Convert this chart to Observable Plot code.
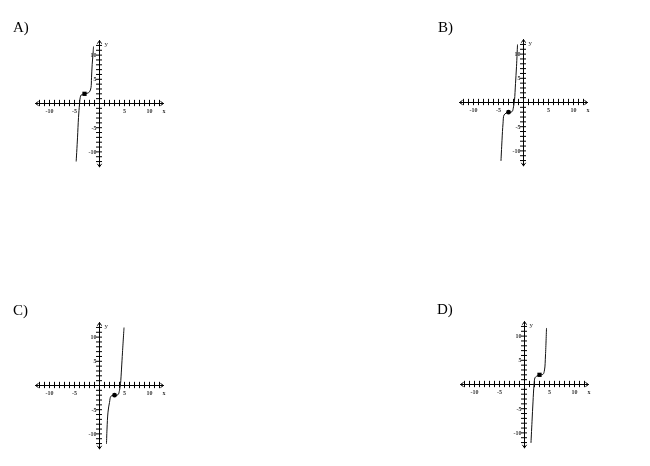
<!DOCTYPE html>
<html><head><meta charset="utf-8">
<script src="https://cdn.jsdelivr.net/npm/d3@7"></script>
<script src="https://cdn.jsdelivr.net/npm/@observablehq/plot@0.6"></script>
<style>
body{margin:0;background:#fff;}
#wrap{position:relative;width:650px;height:466px;overflow:hidden;background:#fff;}
.lab{position:absolute;font-family:"Liberation Serif","DejaVu Serif",serif;font-size:15px;color:#000;line-height:1;white-space:nowrap;}
.panel{position:absolute;will-change:transform;}
</style></head><body><div id="wrap"></div>
<script>
// ---- data ----
const panelNames = ["A)", "B)", "C)", "D)"];
const axisTicks = [-12,-11,-10,-9,-8,-7,-6,-5,-4,-3,-2,-1,1,2,3,4,5,6,7,8,9,10,11,12];
const xTickLabels = [-10, -5, 5, 10];
const yTickLabels = [10, 5, -5, -10];

const aX = [-4.66, -4.4, -4.2, -4.0, -3.86, -3.66, -3.0, -2.5, -2.0, -1.7, -1.6, -1.46, -1.3, -1.2];
const aY = [-11.9, -7.1, -2.9, -0.2, 1.2, 1.76, 2.0, 2.1, 2.4, 3.3, 5.3, 8.1, 10.2, 11.7];

const bX = [-4.5, -4.3, -4.1, -3.9, -3.5, -3.0, -2.3, -2.0, -1.8, -1.6, -1.4, -1.2];
const bY = [-12.0, -7.8, -4.4, -2.6, -2.2, -2.0, -1.9, -0.9, 0.5, 3.9, 7.4, 11.9];

const cX = [1.4, 1.5, 1.7, 2.0, 2.3, 3.0, 3.7, 4.0, 4.2, 4.4, 4.6, 4.9];
const cY = [-12.0, -9.0, -5.5, -3.5, -2.2, -2.0, -1.9, -1.0, 0.35, 3.4, 6.9, 11.9];

const dX = [1.3, 1.5, 1.7, 1.9, 2.1, 2.4, 3.0, 3.7, 4.0, 4.2, 4.4];
const dY = [-12.0, -7.7, -3.6, -0.15, 1.4, 1.7, 2.0, 2.1, 3.0, 6.1, 11.6];

const pointX = [-3, -3, 3, 3];
const pointY = [2, -2, -2, 2];
const pointSymbol = ["square", "circle", "circle", "square"];

// ---- layout ----
const origins = [[99.3, 102.5], [523.3, 102.3], [99, 385], [524, 384.3]];
const letterPos = [[13, 20], [438, 20], [13, 303], [437, 302]];
const W = 150, H = 150;
const xDom = [-15, 15], yDom = [-15.5, 15.5];

const wrap = document.getElementById("wrap");
const curves = [[aX, aY], [bX, bY], [cX, cY], [dX, dY]];
const serif = "Liberation Serif, DejaVu Serif, serif";

curves.forEach(([xs, ys], i) => {
  const line = xs.map((x, k) => ({x, y: ys[k]}));
  const chart = Plot.plot({
    width: W, height: H, margin: 0,
    x: {domain: xDom, axis: null},
    y: {domain: yDom, axis: null},
    style: {background: "transparent", overflow: "visible"},
    marks: [
      Plot.arrow([{a: 0, b: -12.8}, {a: 0, b: 12.8}], {x1: "a", x2: "b", y1: 0, y2: 0, headLength: 5, headAngle: 70, stroke: "black", strokeWidth: 1}),
      Plot.arrow([{a: 0, b: -13.1}, {a: 0, b: 13.0}], {y1: "a", y2: "b", x1: 0, x2: 0, headLength: 5, headAngle: 70, stroke: "black", strokeWidth: 1}),
      Plot.ruleX(axisTicks, {x: d => d, y1: -0.65, y2: 0.65, stroke: "black", strokeWidth: 1}),
      Plot.ruleY(axisTicks, {y: d => d, x1: -0.6, x2: 0.6, stroke: "black", strokeWidth: 1}),
      Plot.text(xTickLabels, {x: d => d, y: 0, dy: 8, text: d => String(d), fontSize: 6, fontFamily: serif, fontWeight: "bold", fill: "#333"}),
      Plot.text(yTickLabels, {x: 0, y: d => d, dx: -3, textAnchor: "end", text: d => String(d), fontSize: 6, fontFamily: serif, fontWeight: "bold", fill: "#333"}),
      Plot.text(["x"], {x: 12.9, y: 0, dy: 8, text: d => d, fontSize: 6, fontFamily: serif, fontWeight: "bold", fill: "#333"}),
      Plot.text(["y"], {x: 0, y: 12.3, dx: 5, textAnchor: "start", text: d => d, fontSize: 7, fontFamily: serif, fill: "#333"}),
      Plot.line(line, {x: "x", y: "y", curve: "catmull-rom", stroke: "#111", strokeWidth: 1}),
      Plot.dot([{x: pointX[i], y: pointY[i]}], {x: "x", y: "y", r: 2.4, fill: "black", stroke: "none", symbol: pointSymbol[i]})
    ]
  });
  const [ox, oy] = origins[i];
  chart.classList.add("panel");
  chart.style.left = (ox - W / 2) + "px";
  chart.style.top = (oy - H / 2) + "px";
  wrap.appendChild(chart);

  const lab = document.createElement("div");
  lab.className = "lab";
  lab.textContent = panelNames[i];
  lab.style.left = letterPos[i][0] + "px";
  lab.style.top = letterPos[i][1] + "px";
  wrap.appendChild(lab);
});
</script>
</body></html>
